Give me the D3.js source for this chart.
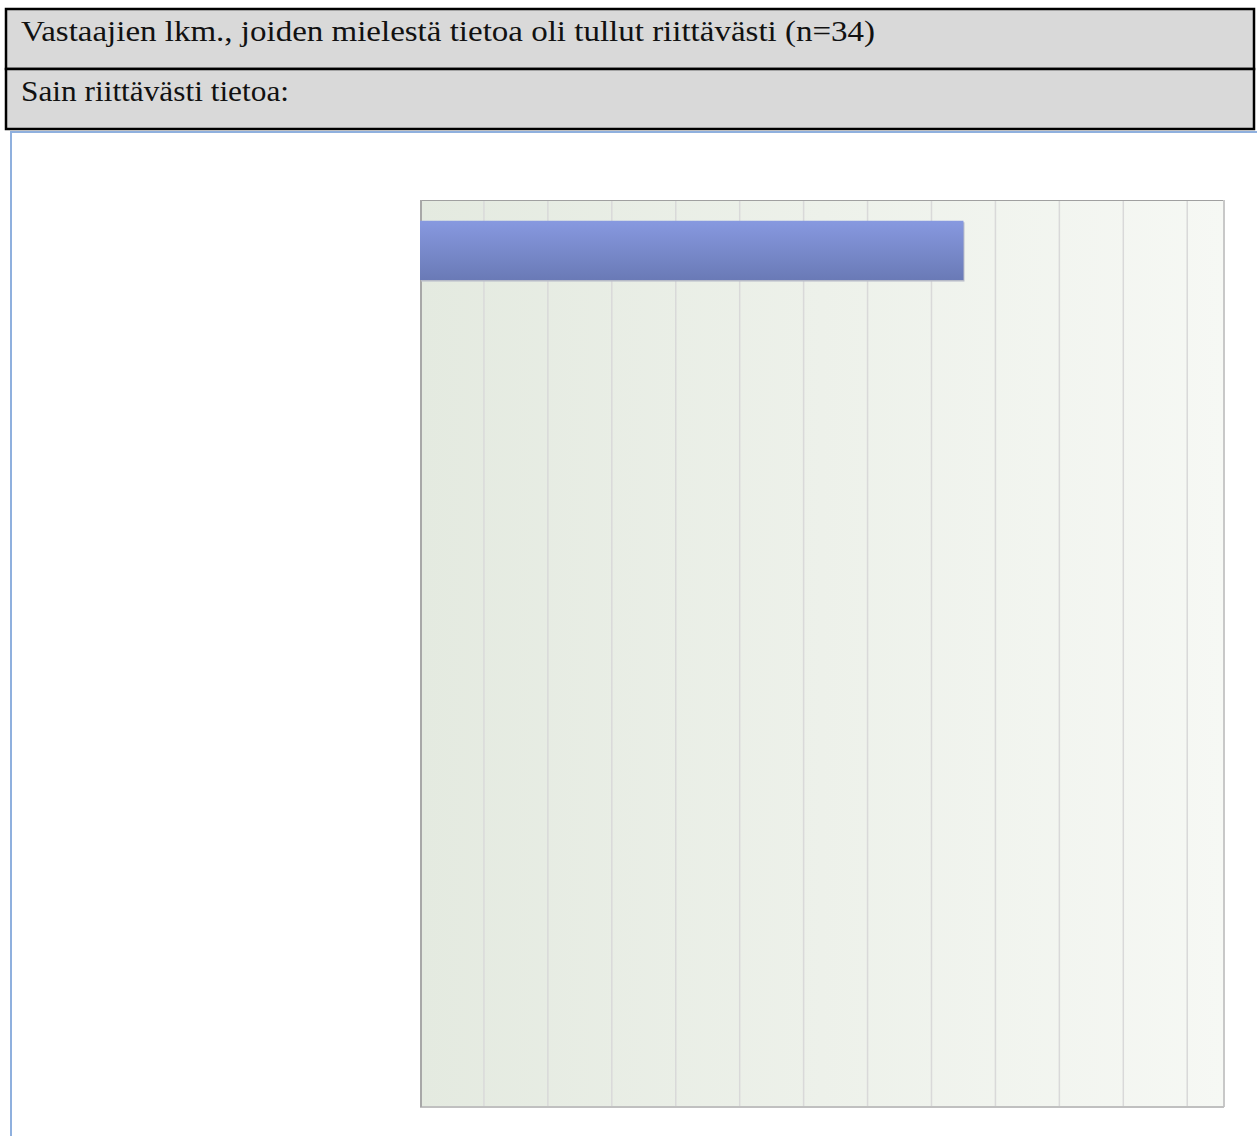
<!DOCTYPE html>
<html>
<head>
<meta charset="utf-8">
<script src="https://cdn.jsdelivr.net/npm/d3@7"></script>
<style>
  body { margin: 0; background: #fff; }
  svg { display: block; }
</style>
</head>
<body>
<svg id="chart"></svg>
<script>
// otsikot
const titleRows = [
  "Vastaajien lkm., joiden mielestä tietoa oli tullut riittävästi (n=34)",
  "Sain riittävästi tietoa:"
];
const titleWidths = [854, 268];

// luokat (nimet eivät näy kuvassa) ja arvot
const categories = ["c1", "c2", "c3", "c4", "c5", "c6", "c7", "c8", "c9"];
const values = [34, 0, 0, 0, 0, 0, 0, 0, 0];
const xMax = 50.3;
const tickStep = 4;

const width = 1257, height = 1136;
const svg = d3.select("#chart").attr("width", width).attr("height", height);

const defs = svg.append("defs");
const bg = defs.append("linearGradient").attr("id", "bg")
  .attr("x1", "0%").attr("x2", "100%").attr("y1", "0%").attr("y2", "0%");
bg.append("stop").attr("offset", "0%").attr("stop-color", "#e4eae0");
bg.append("stop").attr("offset", "100%").attr("stop-color", "#f6f8f4");

const barGrad = defs.append("linearGradient").attr("id", "barGrad")
  .attr("x1", "0%").attr("x2", "0%").attr("y1", "0%").attr("y2", "100%");
barGrad.append("stop").attr("offset", "0%").attr("stop-color", "#8799e0");
barGrad.append("stop").attr("offset", "100%").attr("stop-color", "#6a7ab6");

// otsikkotaulukko
const rowH = 60;
const table = svg.append("g");
titleRows.forEach((t, i) => {
  table.append("rect")
    .attr("x", 6).attr("y", 9 + i * rowH)
    .attr("width", 1248).attr("height", rowH)
    .attr("fill", "#d9d9d9")
    .attr("stroke", "#000").attr("stroke-width", 2.5);
  table.append("text")
    .attr("x", 21).attr("y", 41 + i * rowH)
    .attr("font-family", "'Liberation Serif', 'DejaVu Serif', serif")
    .attr("font-size", 29)
    .attr("textLength", titleWidths[i])
    .attr("lengthAdjust", "spacingAndGlyphs")
    .attr("fill", "#111")
    .text(t);
});

// sininen kaavion kehys
svg.append("path")
  .attr("d", "M11,1136 V132 H1257")
  .attr("fill", "none")
  .attr("stroke", "#8fb0de")
  .attr("stroke-width", 2);

const margin = { left: 420, top: 200, right: 1224, bottom: 1107 };

const x = d3.scaleLinear().domain([0, xMax]).range([margin.left, margin.right]);
const y = d3.scaleBand().domain(categories)
  .range([margin.top, margin.bottom])
  .paddingInner(0.7 / 1.7).paddingOuter(0.35 / 1.7);

// piirtoalue
svg.append("rect")
  .attr("x", margin.left).attr("y", margin.top)
  .attr("width", margin.right - margin.left)
  .attr("height", margin.bottom - margin.top)
  .attr("fill", "url(#bg)");

// pystyviivat
const ticks = d3.range(tickStep, xMax, tickStep);
svg.append("g")
  .selectAll("line")
  .data(ticks)
  .join("line")
  .attr("x1", (d) => x(d)).attr("x2", (d) => x(d))
  .attr("y1", margin.top).attr("y2", margin.bottom)
  .attr("stroke", "#d9d9d9")
  .attr("stroke-width", 1.5);

// reunat
svg.append("line")
  .attr("x1", margin.left).attr("x2", margin.right)
  .attr("y1", margin.top + 0.5).attr("y2", margin.top + 0.5)
  .attr("stroke", "#a0a0a0");
svg.append("line")
  .attr("x1", margin.right).attr("x2", margin.right)
  .attr("y1", margin.top).attr("y2", margin.bottom)
  .attr("stroke", "#c8c8c8").attr("stroke-width", 2);
svg.append("line")
  .attr("x1", margin.left).attr("x2", margin.right)
  .attr("y1", margin.bottom).attr("y2", margin.bottom)
  .attr("stroke", "#c0c0c0").attr("stroke-width", 2);
svg.append("line")
  .attr("x1", margin.left + 1).attr("x2", margin.left + 1)
  .attr("y1", margin.top).attr("y2", margin.bottom)
  .attr("stroke", "#a8a8a8").attr("stroke-width", 2);

// palkit + varjo
const bars = svg.append("g")
  .selectAll("g")
  .data(categories.map((c, i) => ({ c, v: values[i] })).filter((d) => d.v > 0))
  .join("g");
bars.append("rect")
  .attr("x", margin.left + 1)
  .attr("y", (d) => y(d.c) + 1.5)
  .attr("width", (d) => x(d.v) - margin.left)
  .attr("height", y.bandwidth())
  .attr("fill", "#b8bcc8");
bars.append("rect")
  .attr("x", margin.left)
  .attr("y", (d) => y(d.c))
  .attr("width", (d) => x(d.v) - margin.left)
  .attr("height", y.bandwidth())
  .attr("fill", "url(#barGrad)");
</script>
</body>
</html>
